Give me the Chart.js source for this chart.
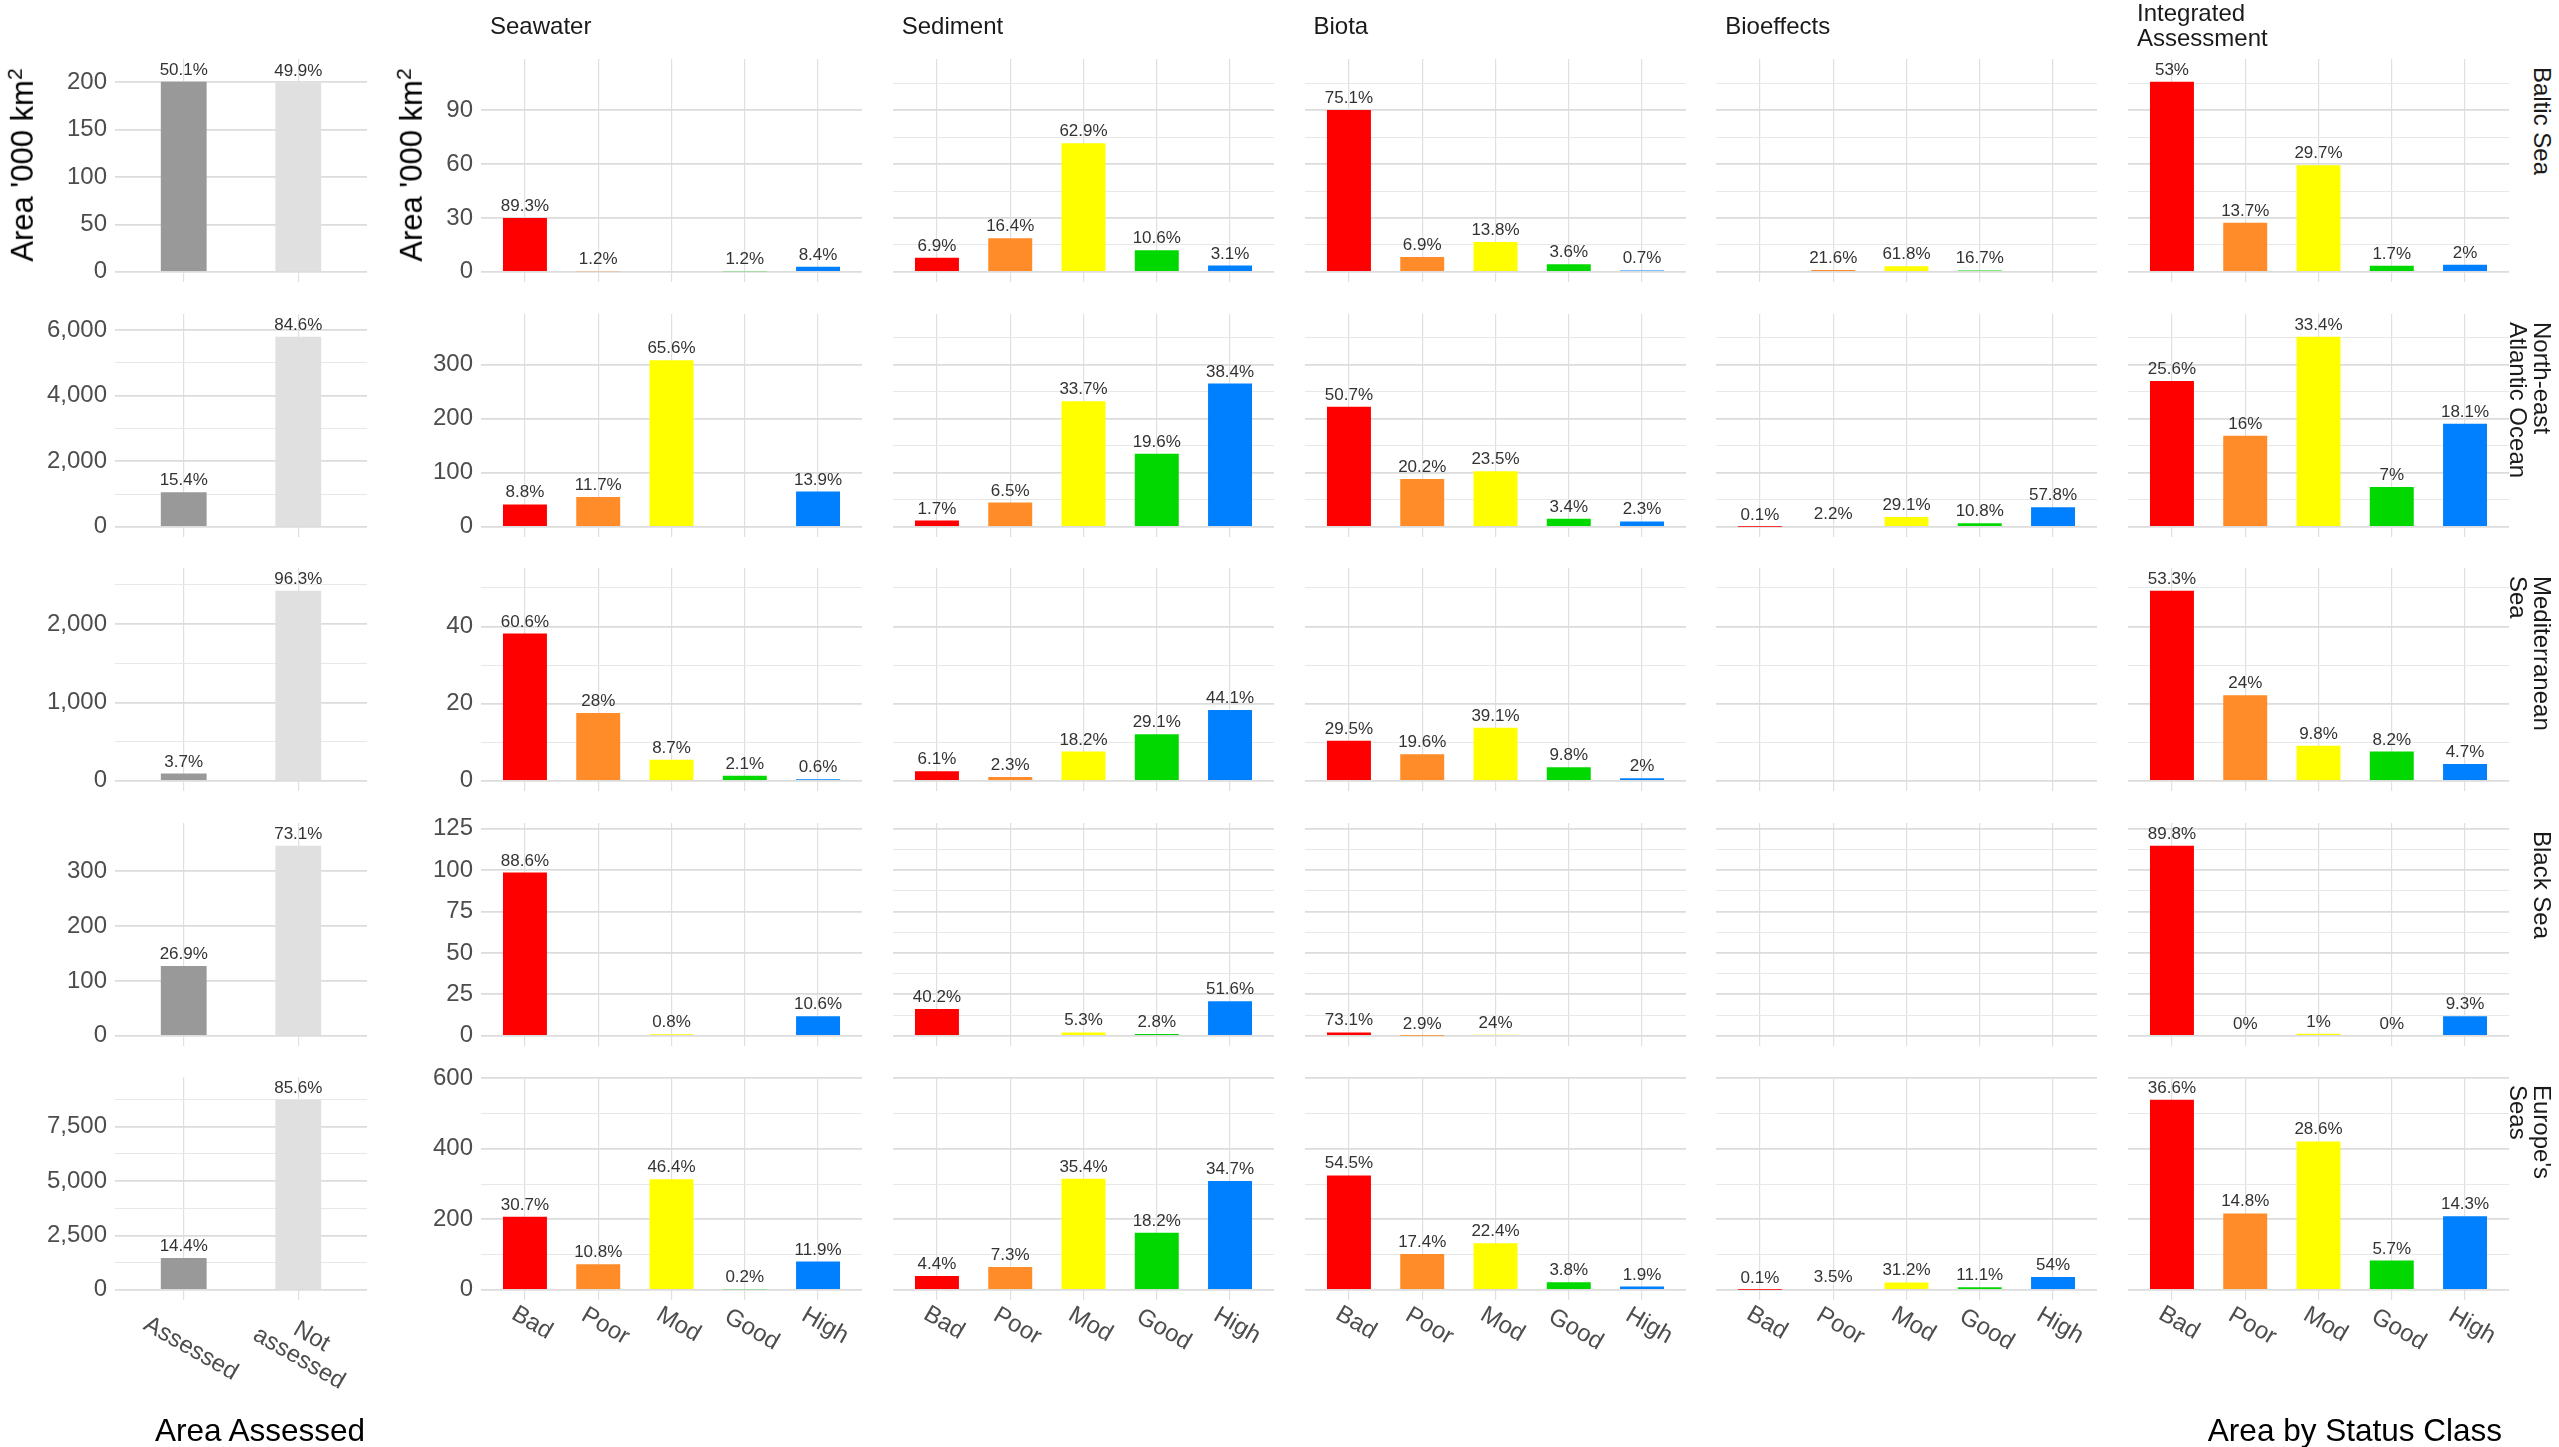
<!DOCTYPE html>
<html>
<head>
<meta charset="utf-8">
<script src="https://cdn.jsdelivr.net/npm/chart.js@4.4.0/dist/chart.umd.min.js"></script>
<style>
  html, body { margin: 0; padding: 0; background: #fff; }
  body { width: 2559px; height: 1447px; position: relative; overflow: hidden;
         font-family: 'Liberation Sans', Arial, sans-serif; }
  .panel { position: absolute; }
  .txt { position: absolute; white-space: pre; color: #1a1a1a; }
  .coltitle { font-size: 24px; line-height: 25px; top: 0; height: 50px; display: flex; align-items: center; }
  .rowlab { font-size: 24px; line-height: 24px; transform: rotate(90deg); transform-origin: 0 0; }
  .ytitle { font-size: 31px; color: #000; transform: translate(-50%, -50%) rotate(-90deg); }
  .ytitle sup { font-size: 0.68em; }
  .xtitle { font-size: 31.5px; color: #000; transform: translateY(-50%); }
</style>
</head>
<body>
<script>
// ---- data ----
const regions = ['Baltic Sea', 'North-east\nAtlantic Ocean', 'Mediterranean\nSea', 'Black Sea', "Europe's\nSeas"];
const components = ['Seawater', 'Sediment', 'Biota', 'Bioeffects', 'Integrated\nAssessment'];
const statusClasses = ['Bad', 'Poor', 'Mod', 'Good', 'High'];
const assessClasses = ['Assessed', 'Not\nassessed'];
const statusColors = ['#ff0000', '#ff8c28', '#ffff00', '#00d800', '#0080ff'];
const assessColors = ['#999999', '#e0e0e0'];

// area assessed, '000 km2 : [Assessed, Not assessed]
const balticArea = [200.5, 199.5];
const atlanticArea = [1055, 5800];
const medArea = [93, 2426];
const blackArea = [127.5, 346.5];
const europeArea = [1468, 8749];
const balticAreaPct = ['50.1%', '49.9%'];
const atlanticAreaPct = ['15.4%', '84.6%'];
const medAreaPct = ['3.7%', '96.3%'];
const blackAreaPct = ['26.9%', '73.1%'];
const europeAreaPct = ['14.4%', '85.6%'];

// area by status class, rows = Seawater, Sediment, Biota, Bioeffects, Integrated
const balticStatus = [
  [30.0, 0.4, null, 0.4, 2.8],
  [7.9, 18.7, 71.7, 12.1, 3.5],
  [90.2, 8.3, 16.6, 4.3, 0.8],
  [null, 1.1, 3.1, 0.8, null],
  [106.0, 27.4, 59.4, 3.4, 4.0]
];
const balticPct = [
  ['89.3%', '1.2%', null, '1.2%', '8.4%'],
  ['6.9%', '16.4%', '62.9%', '10.6%', '3.1%'],
  ['75.1%', '6.9%', '13.8%', '3.6%', '0.7%'],
  [null, '21.6%', '61.8%', '16.7%', null],
  ['53%', '13.7%', '29.7%', '1.7%', '2%']
];
const atlanticStatus = [
  [41.4, 55.0, 308.0, null, 65.3],
  [11.7, 45.0, 232.5, 135.0, 265.0],
  [222.0, 88.5, 103.0, 14.9, 10.0],
  [0.06, 1.4, 18.3, 6.8, 36.4],
  [269.6, 168.5, 351.7, 73.7, 190.6]
];
const atlanticPct = [
  ['8.8%', '11.7%', '65.6%', null, '13.9%'],
  ['1.7%', '6.5%', '33.7%', '19.6%', '38.4%'],
  ['50.7%', '20.2%', '23.5%', '3.4%', '2.3%'],
  ['0.1%', '2.2%', '29.1%', '10.8%', '57.8%'],
  ['25.6%', '16%', '33.4%', '7%', '18.1%']
];
const medStatus = [
  [38.2, 17.6, 5.5, 1.3, 0.4],
  [2.5, 1.0, 7.6, 12.1, 18.4],
  [10.4, 6.9, 13.8, 3.5, 0.7],
  [null, null, null, null, null],
  [49.3, 22.2, 9.1, 7.6, 4.35]
];
const medPct = [
  ['60.6%', '28%', '8.7%', '2.1%', '0.6%'],
  ['6.1%', '2.3%', '18.2%', '29.1%', '44.1%'],
  ['29.5%', '19.6%', '39.1%', '9.8%', '2%'],
  [null, null, null, null, null],
  ['53.3%', '24%', '9.8%', '8.2%', '4.7%']
];
const blackStatus = [
  [98.4, null, 0.9, null, 11.8],
  [16.2, null, 2.1, 1.1, 20.8],
  [2.1, 0.08, 0.7, null, null],
  [null, null, null, null, null],
  [114.6, 0, 1.3, 0, 11.8]
];
const blackPct = [
  ['88.6%', null, '0.8%', null, '10.6%'],
  ['40.2%', null, '5.3%', '2.8%', '51.6%'],
  ['73.1%', '2.9%', '24%', null, null],
  [null, null, null, null, null],
  ['89.8%', '0%', '1%', '0%', '9.3%']
];
const europeStatus = [
  [207.5, 73.0, 313.7, 1.4, 80.4],
  [39.2, 65.0, 315.0, 162.0, 308.8],
  [324.7, 102.0, 132.5, 21.8, 9.5],
  [0.07, 2.4, 21.2, 7.5, 36.7],
  [539.5, 216.8, 421.0, 83.3, 209.0]
];
const europePct = [
  ['30.7%', '10.8%', '46.4%', '0.2%', '11.9%'],
  ['4.4%', '7.3%', '35.4%', '18.2%', '34.7%'],
  ['54.5%', '17.4%', '22.4%', '3.8%', '1.9%'],
  ['0.1%', '3.5%', '31.2%', '11.1%', '54%'],
  ['36.6%', '14.8%', '28.6%', '5.7%', '14.3%']
];

// labelled y tick spacing per row
const areaTickStep = [50, 2000, 1000, 100, 2500];
const statusTickStep = [30, 100, 20, 25, 200];

const regionArea = [balticArea, atlanticArea, medArea, blackArea, europeArea];
const regionAreaPct = [balticAreaPct, atlanticAreaPct, medAreaPct, blackAreaPct, europeAreaPct];
const regionStatus = [balticStatus, atlanticStatus, medStatus, blackStatus, europeStatus];
const regionPct = [balticPct, atlanticPct, medPct, blackPct, europePct];

// ---- layout ----
const ROW_TOP = 59, ROW_PITCH = 254.5, PANEL_H = 223;
const LEFT_X = 115, LEFT_W = 252;
const STATUS_X = 481, STATUS_PITCH = 411.75, STATUS_W = 381;
const AXIS_W = 80;
const PAD_TOP = 16; // canvas room above the panel for the top tick label
const HEADROOM = 1.066; // room for the labels above the tallest bar
const EXPAND = 0.05;
const FONT = "'Liberation Sans', Arial, sans-serif";

Chart.defaults.font.family = FONT;

// percent labels above bars + rotated class labels under the bottom row
const barLabelPlugin = {
  id: 'barLabels',
  afterDatasetsDraw(chart, args, opts) {
    const ctx = chart.ctx;
    const xs = chart.scales.x, ys = chart.scales.y;
    const data = chart.data.datasets[0].data;
    ctx.save();
    ctx.font = '17px ' + FONT;
    ctx.fillStyle = '#333333';
    ctx.textAlign = 'center';
    ctx.textBaseline = 'alphabetic';
    opts.labels.forEach((lab, i) => {
      if (lab == null) return;
      const v = data[i].y || 0;
      ctx.fillText(lab, xs.getPixelForValue(i + 1), ys.getPixelForValue(v) - 7);
    });
    if (opts.xLabels) {
      ctx.font = '24px ' + FONT;
      ctx.fillStyle = '#4d4d4d';
      const ang = 30 * Math.PI / 180;
      opts.xLabels.forEach((lab, i) => {
        const lines = lab.split('\n');
        const w = Math.max(...lines.map(l => ctx.measureText(l).width));
        const cx = xs.getPixelForValue(i + 1) + 7;
        const cy = chart.chartArea.bottom + 5 + 0.42 * w;
        ctx.save();
        ctx.translate(cx, cy);
        ctx.rotate(ang);
        ctx.textAlign = 'center';
        ctx.textBaseline = 'middle';
        lines.forEach((l, k) => ctx.fillText(l, 0, (k - (lines.length - 1) / 2) * 25));
        ctx.restore();
      });
    }
    ctx.restore();
  }
};

function isMajor(v, step) {
  return Math.abs(v / step - Math.round(v / step)) < 1e-6;
}

function makePanel(p) {
  const div = document.createElement('div');
  div.className = 'panel';
  div.style.left = (p.left - p.axisW) + 'px';
  div.style.top = (p.top - PAD_TOP) + 'px';
  div.style.width = (p.width + p.axisW) + 'px';
  div.style.height = (PANEL_H + PAD_TOP + p.extra) + 'px';
  const cv = document.createElement('canvas');
  div.appendChild(cv);
  document.body.appendChild(div);

  const L = HEADROOM * p.maxVal;
  const yTicks = [];
  for (let v = 0; v <= (1 + EXPAND) * L; v += p.step / 2) yTicks.push(Math.round(v * 1000) / 1000);
  const n = p.cats.length;

  new Chart(cv, {
    type: 'bar',
    data: {
      datasets: [{
        data: p.values.map((v, i) => ({ x: i + 1, y: v })),
        backgroundColor: p.colors,
        borderWidth: 0,
        barPercentage: p.barPct,
        categoryPercentage: 1
      }]
    },
    options: {
      animation: false,
      responsive: true,
      maintainAspectRatio: false,
      layout: { padding: { left: 0, right: 0, top: PAD_TOP, bottom: p.extra } },
      plugins: {
        legend: { display: false },
        tooltip: { enabled: false },
        barLabels: { labels: p.pct, xLabels: p.xLabels }
      },
      scales: {
        x: {
          type: 'linear',
          min: 0.4,
          max: n + 0.6,
          offset: false,
          afterBuildTicks: s => { s.ticks = p.cats.map((c, i) => ({ value: i + 1 })); },
          afterFit: s => { s.height = 0; s.paddingLeft = 0; s.paddingRight = 0; },
          ticks: { display: false },
          grid: { offset: false, color: '#e0e0e0', lineWidth: 1.2, drawTicks: false },
          border: { display: false }
        },
        y: {
          min: -EXPAND * L,
          max: (1 + EXPAND) * L,
          afterBuildTicks: s => { s.ticks = yTicks.map(v => ({ value: v })); },
          afterFit: s => { s.width = p.axisW; s.paddingTop = 0; s.paddingBottom = 0; },
          ticks: {
            display: p.axisW > 0,
            padding: 8,
            color: '#4d4d4d',
            font: { size: 24 },
            callback: v => isMajor(v, p.step) ? v.toLocaleString('en-US') : ''
          },
          grid: {
            drawTicks: false,
            color: c => (c.tick && isMajor(c.tick.value, p.step)) ? '#dcdcdc' : '#e8e8e8',
            lineWidth: c => (c.tick && isMajor(c.tick.value, p.step)) ? 1.8 : 1.1
          },
          border: { display: false }
        }
      }
    },
    plugins: [barLabelPlugin]
  });
}

function addText(cls, html, left, top) {
  const d = document.createElement('div');
  d.className = 'txt ' + cls;
  d.innerHTML = html;
  d.style.left = left + 'px';
  d.style.top = top + 'px';
  document.body.appendChild(d);
  return d;
}

regions.forEach((reg, r) => {
  const top = ROW_TOP + r * ROW_PITCH;
  const bottomRow = r === regions.length - 1;
  const extra = bottomRow ? 130 : 0;

  makePanel({
    left: LEFT_X, top, width: LEFT_W, axisW: AXIS_W, extra,
    values: regionArea[r], pct: regionAreaPct[r], colors: assessColors, cats: assessClasses,
    step: areaTickStep[r], maxVal: Math.max(...regionArea[r]), barPct: 0.4,
    xLabels: bottomRow ? assessClasses : null
  });

  const sMax = Math.max(...regionStatus[r].flat().filter(v => v != null));
  components.forEach((comp, c) => {
    makePanel({
      left: STATUS_X + c * STATUS_PITCH, top, width: STATUS_W, axisW: c === 0 ? AXIS_W : 0, extra,
      values: regionStatus[r][c], pct: regionPct[r][c], colors: statusColors, cats: statusClasses,
      step: statusTickStep[r], maxVal: sMax, barPct: 0.6,
      xLabels: bottomRow ? statusClasses : null
    });
  });

  addText('rowlab', reg, 2554, top + 8);
});

components.forEach((comp, c) => {
  addText('coltitle', comp, STATUS_X + c * STATUS_PITCH + 9, 0);
});

addText('ytitle', "Area '000 km<sup>2</sup>", 22, 165);
addText('ytitle', "Area '000 km<sup>2</sup>", 411, 165);
const xt1 = addText('xtitle', 'Area Assessed', 260, 1430);
xt1.style.transform = 'translate(-50%, -50%)';
const xt2 = addText('xtitle', 'Area by Status Class', 0, 1430);
xt2.style.left = '';
xt2.style.right = (2559 - 2502) + 'px';
</script>
</body>
</html>
